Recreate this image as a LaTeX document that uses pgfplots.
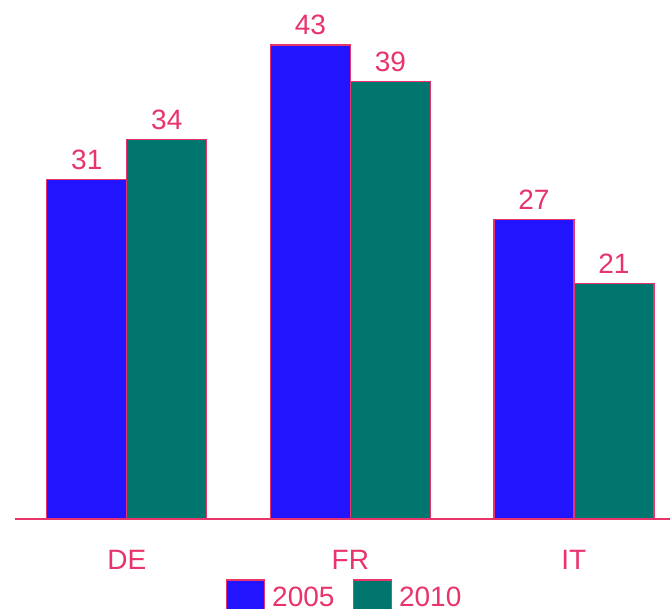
\documentclass[border=0pt]{standalone}
\usepackage{pgfplots}
\pgfplotsset{compat=1.18}
\usepackage{fontspec}
\setmainfont{Liberation Sans}
\usetikzlibrary{calc}
\definecolor{cblue}{HTML}{2314FF}
\definecolor{cteal}{HTML}{00766F}
\definecolor{cpink}{HTML}{E8336B}
\begin{document}
\fontsize{14}{17}\selectfont
\begin{tikzpicture}
\begin{axis}[
  name=ax,
  scale only axis,
  width=327.5pt, height=259.5pt,
  xmin=-0.5, xmax=2.43,
  ymin=0, ymax=46.76,
  axis x line=bottom,
  axis y line=none,
  x axis line style={-, draw=cpink, line width=0.8pt},
  xtick={0,1,2},
  xticklabels={DE,FR,IT},
  major tick length=0pt,
  xticklabel style={text=cpink, yshift=-11pt},
  ybar=0pt,
  bar width=40pt,
  clip=false,
  /pgf/number format/assume math mode=true,
  nodes near coords={\pgfmathprintnumber[fixed,precision=0]{\pgfplotspointmeta}},
  every node near coord/.append style={text=cpink, font=\fontsize{14}{17}\selectfont},
  legend style={at={(0.5,-0.108)}, anchor=north, draw=none, fill=none, legend columns=-1,
    text=cpink, font=\fontsize{14}{17}\selectfont, xshift=1.5pt,
    /tikz/every odd column/.append style={column sep=1.5pt},
    /tikz/every even column/.append style={column sep=7pt}},
  legend image code/.code={\draw[#1, draw=cpink, line width=0.8pt] (0pt,-9.5pt) rectangle (19pt,9.5pt);},
]
\addplot[fill=cblue, draw=cpink, line width=0.7pt] coordinates {(0,30.6) (1,42.7) (2,27.0)};
\addplot[fill=cteal, draw=cpink, line width=0.7pt] coordinates {(0,34.2) (1,39.4) (2,21.2)};
\legend{2005,2010}
\end{axis}
\pgfresetboundingbox
\path[use as bounding box] ($(ax.south west)+(-7.5pt,-45pt)$) rectangle (ax.north east);
\end{tikzpicture}
\end{document}
